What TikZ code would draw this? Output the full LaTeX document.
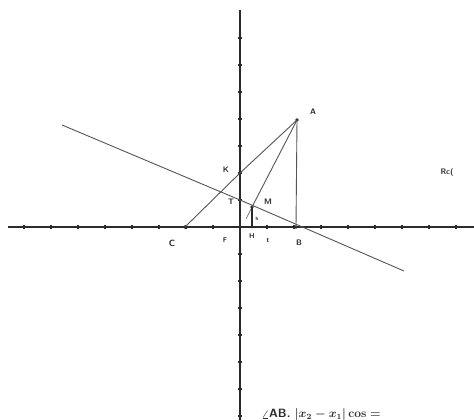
\documentclass[tikz,border=0pt]{standalone}
\usepackage{tikz}
\usepackage{xcolor}
\definecolor{Ink}{HTML}{2B2B2B}
\definecolor{Pencil}{HTML}{555555}
\definecolor{Paper}{HTML}{FFFFFF}

\begin{document}
\begin{tikzpicture}[x=1pt,y=1pt]
\path[use as bounding box,fill=Paper] (0,0) rectangle (474,420);
\tikzset{
  axisline/.style={draw=Ink,line width=1.2pt},
  penline/.style={draw=Pencil,line width=0.9pt},
  tickmark/.style={draw=Ink,line width=1.2pt},
  ptlabel/.style={font=\sffamily\bfseries\footnotesize,text=Ink},
  dotpt/.style={circle,fill=Ink,inner sep=1.3pt}
}
% axes
\coordinate (Xl) at (8,193);
\coordinate (Xr) at (474,193);
\coordinate (Yt) at (240,410);
\coordinate (Yb) at (240,0);
\draw[axisline] (Xl) -- (Xr);
\draw[axisline] (Yt) -- (Yb);
\foreach \k in {-8,...,-1,1,2,...,8}
  \draw[tickmark] ({240+27*\k},191) -- ({240+27*\k},195);
\foreach \k in {-7,...,-1,1,2,...,7}
  \draw[tickmark] (238,{193+27*\k}) -- (242,{193+27*\k});
% points
\node[dotpt] (A) at (297,300) {};
\node[dotpt] (B) at (296,193) {};
\node[dotpt] (C) at (185,193) {};
\coordinate (K) at (240,247);
\coordinate (T) at (240,220);
\node[dotpt] (M) at (252,213) {};
\node[dotpt,inner sep=1pt] (H) at (252,193) {};
\coordinate (Me) at (246,201);
\coordinate (L1) at (62,295);
\coordinate (L2) at (404,149);
% lines
\draw[penline] (C.center) -- (K) -- (A.center);
\draw[penline] (A.center) -- (B.center);
\draw[penline] (A.center) -- (M.center);
\draw[penline,line width=0.5pt] (M.center) -- (Me);
\draw[Ink,line width=1.6pt] (M.center) -- (H.center);
\draw[penline] (L1) -- (T) -- (L2);
% labels
\node[ptlabel] (lA) at (313,308) {A};
\node[ptlabel] (lB) at (299,177) {B};
\node[ptlabel,font=\sffamily\bfseries\small] (lC) at (172,177) {C};
\node[ptlabel] (lK) at (226,250) {K};
\node[ptlabel] (lT) at (231,218) {T};
\node[ptlabel] (lM) at (268,218) {M};
\node[ptlabel,font=\sffamily\bfseries\scriptsize] (lF) at (225,180) {F};
\node[ptlabel,font=\sffamily\bfseries\scriptsize] (lH) at (252,184) {H};
\node[ptlabel,font=\sffamily\bfseries\scriptsize] (lt) at (268,180) {t};
\node[ptlabel,font=\sffamily\bfseries\tiny] (lh) at (257,201) {h};
\node[anchor=west,font=\sffamily\bfseries\footnotesize,text=Ink] (rc) at (437,247) {Rc(};
\node[anchor=west,font=\sffamily\bfseries\large\mathversion{bold},text=Ink] (formula) at (258,5)
  {$\angle$AB. $|x_2-x_1|\cos =$};
\end{tikzpicture}
\end{document}
